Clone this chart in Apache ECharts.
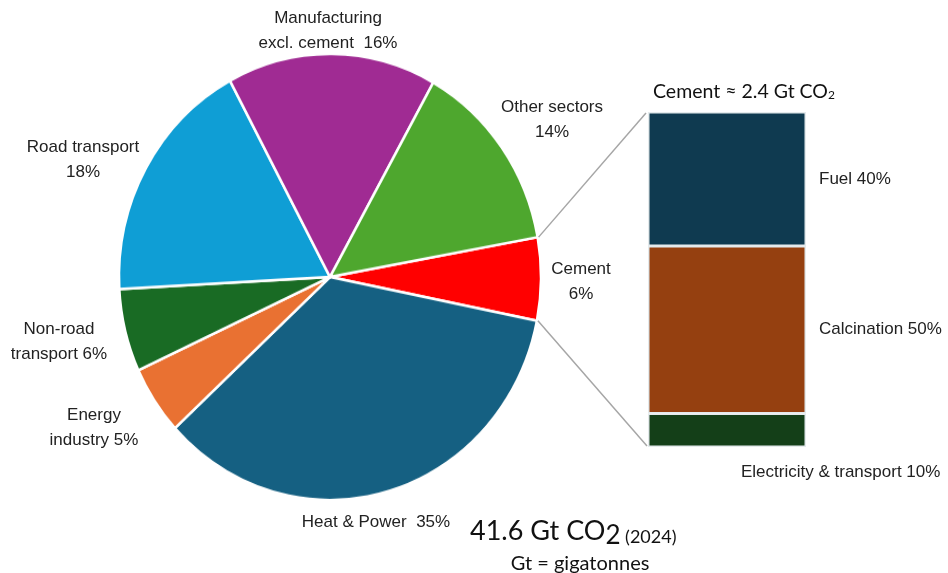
<!DOCTYPE html>
<html>
<head>
<meta charset="utf-8">
<script src="https://cdn.jsdelivr.net/npm/echarts@6/dist/echarts.min.js"></script>
<style>
  html, body { margin: 0; padding: 0; background: #fff; }
  #wrap { position: relative; width: 948px; height: 573px; overflow: hidden; }
  #pie { position: absolute; left: 0; top: 0; width: 948px; transform-origin: 0 0; }
  #main { position: absolute; left: 0; top: 0; width: 948px; height: 573px; }
</style>
</head>
<body>
<div id="wrap"><div id="pie"></div><div id="main"></div></div>
<script>
// ---------- data ----------
const sectorNames = ['Cement', 'Heat & Power', 'Energy industry', 'Non-road transport', 'Road transport', 'Manufacturing excl. cement', 'Other sectors'];
const sectorShares = [6, 35, 5, 6, 18, 16, 14];
const sectorLabelText = ['Cement\n', 'Heat & Power  ', 'Energy\nindustry ', 'Non-road\ntransport ', 'Road transport\n', 'Manufacturing\nexcl. cement  ', 'Other sectors\n'];
const cementParts = ['Fuel', 'Calcination', 'Electricity & transport'];
const cementPartShares = [40, 50, 10];
const cementTitle = 'Cement \u2248 2.4 Gt CO';
const totalValue = '41.6 Gt CO';
const totalYear = ' (2024)';
const unitNote = 'Gt = gigatonnes';

// ---------- layout / style ----------
const sectorColors = ['#ff0000', '#156082', '#e97132', '#196b24', '#0f9ed5', '#a02b93', '#4ea72e'];
const partColors = ['#0f3a50', '#954010', '#143f18'];
const PIE = { cx: 330, cy: 277, rx: 211, ry: 223, start: 10.3 };
const K = PIE.ry / PIE.rx;
const GRID = { left: 648, top: 112, width: 158, height: 335 };
const labelPos = [[581, 282], [376, 522], [94, 428], [59, 341.5], [83, 159.5], [328, 31], [552, 119.5]];
const FONT = '"Liberation Sans", Arial, sans-serif';
const TFONT = 'Lato, "Open Sans", sans-serif';

// ---------- pie (elliptical via vertical scale) ----------
const pieDiv = document.getElementById('pie');
pieDiv.style.height = (573 / K) + 'px';
pieDiv.style.transform = 'scaleY(' + K + ')';
const pieChart = echarts.init(pieDiv, null, { renderer: 'canvas' });
pieChart.setOption({
  animation: false,
  series: [{
    type: 'pie',
    center: [PIE.cx, PIE.cy / K],
    radius: [0, PIE.rx],
    startAngle: PIE.start,
    clockwise: true,
    label: { show: false },
    labelLine: { show: false },
    itemStyle: { borderColor: '#fff', borderWidth: 2.5 },
    emphasis: { disabled: true },
    data: sectorNames.map((n, i) => ({ name: n, value: sectorShares[i], itemStyle: { color: sectorColors[i] } }))
  }]
});

// ---------- helpers ----------
const mctx = document.createElement('canvas').getContext('2d');
function textWidth(t, size) { mctx.font = size + 'px ' + TFONT; return mctx.measureText(t).width; }
// sequence of text pieces on a common baseline (baseline + dy per piece)
function seqText(x, baseline, pieces) {
  const out = [];
  let cx = x;
  pieces.forEach(p => {
    out.push({
      type: 'text', x: cx, y: baseline + (p.dy || 0) - 0.32 * p.size,
      style: { text: p.text, font: p.size + 'px ' + TFONT, fill: '#111', align: 'left', verticalAlign: 'middle' }
    });
    cx += textWidth(p.text, p.size);
  });
  return out;
}

// ---------- main (bars, texts, connectors) ----------
const main = echarts.init(document.getElementById('main'), null, { renderer: 'canvas' });
const total = sectorShares.reduce((a, b) => a + b, 0);
const cementFrac = sectorShares[0] / total;
const a0 = PIE.start * Math.PI / 180;
const a1 = (PIE.start - cementFrac * 360) * Math.PI / 180;
const p0 = [PIE.cx + PIE.rx * Math.cos(a0), PIE.cy - PIE.ry * Math.sin(a0)];
const p1 = [PIE.cx + PIE.rx * Math.cos(a1), PIE.cy - PIE.ry * Math.sin(a1)];

const order = [2, 1, 0]; // stack bottom -> top
const barSeries = order.map(idx => ({
  type: 'bar',
  name: cementParts[idx],
  stack: 'cement',
  barWidth: '100%',
  data: [cementPartShares[idx]],
  itemStyle: { color: partColors[idx], borderColor: '#e4eaec', borderWidth: 1.5 },
  label: idx === 2 ? {
    show: true, position: [93, 59], align: 'left', verticalAlign: 'middle',
    formatter: cementParts[idx] + ' ' + cementPartShares[idx] + '%',
    fontFamily: FONT, fontSize: 17, color: '#222'
  } : {
    show: true, position: 'right', distance: 13,
    formatter: cementParts[idx] + ' ' + cementPartShares[idx] + '%',
    fontFamily: FONT, fontSize: 17, color: '#222'
  },
  emphasis: { disabled: true }
}));

let graphics = [];
sectorNames.forEach((n, i) => {
  graphics.push({
    type: 'text', x: labelPos[i][0], y: labelPos[i][1],
    style: {
      text: sectorLabelText[i] + sectorShares[i] + '%',
      font: '17px ' + FONT, fill: '#222',
      align: 'center', verticalAlign: 'middle', lineHeight: 25
    }
  });
});
graphics.push({
  type: 'line', shape: { x1: p0[0] + 1, y1: p0[1], x2: GRID.left - 2, y2: GRID.top + 1 },
  style: { stroke: '#a6a6a6', lineWidth: 1.5 }
});
graphics.push({
  type: 'line', shape: { x1: p1[0] + 1, y1: p1[1], x2: GRID.left - 1, y2: GRID.top + GRID.height - 1 },
  style: { stroke: '#a6a6a6', lineWidth: 1.5 }
});
graphics = graphics.concat(seqText(653, 98, [
  { text: cementTitle, size: 19.5 },
  { text: '2', size: 12, dy: 1 }
]));
graphics = graphics.concat(seqText(470, 540, [
  { text: totalValue, size: 27 },
  { text: '2', size: 26, dy: 4 },
  { text: totalYear, size: 18, dy: 3 }
]));
graphics.push({
  type: 'text', x: 580, y: 570 - 0.32 * 20,
  style: { text: unitNote, font: '20px ' + TFONT, fill: '#111', align: 'center', verticalAlign: 'middle' }
});

main.setOption({
  animation: false,
  grid: { left: GRID.left, top: GRID.top, width: GRID.width, height: GRID.height, containLabel: false },
  xAxis: { type: 'category', data: ['Cement'], show: false },
  yAxis: { type: 'value', min: 0, max: 100, show: false },
  series: barSeries,
  graphic: graphics
});
</script>
</body>
</html>
